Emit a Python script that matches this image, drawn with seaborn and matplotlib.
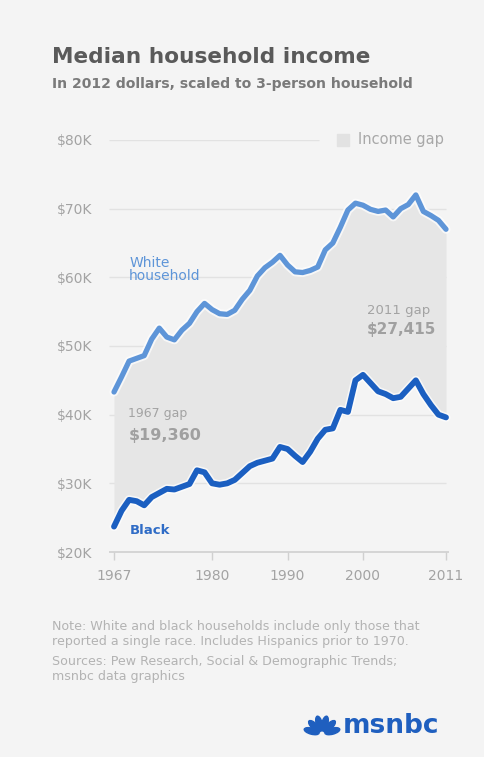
import numpy as np
import pandas as pd
import seaborn as sns
import matplotlib.pyplot as plt
import matplotlib.patheffects as pe
from matplotlib.patches import Ellipse, Rectangle

# values (thousands of 2012 dollars)
years = list(range(1967, 2012))
white_income = [
    43.3, 45.5, 47.8, 48.2, 48.6, 51.0, 52.6, 51.3, 50.9, 52.3,
    53.3, 55.0, 56.2, 55.3, 54.7, 54.6, 55.2, 56.8, 58.1, 60.2,
    61.4, 62.2, 63.2, 61.8, 60.8, 60.7, 61.0, 61.5, 64.0, 65.0,
    67.3, 69.8, 70.8, 70.5, 69.9, 69.6, 69.8, 68.8, 70.0, 70.6,
    72.0, 69.6, 69.0, 68.3, 67.0,
]
black_income = [
    23.7, 26.0, 27.6, 27.4, 26.8, 28.0, 28.6, 29.2, 29.1, 29.5,
    29.9, 31.9, 31.6, 30.0, 29.8, 30.0, 30.5, 31.5, 32.5, 33.0,
    33.3, 33.6, 35.3, 35.0, 34.0, 33.1, 34.6, 36.5, 37.8, 38.0,
    40.7, 40.4, 45.0, 45.8, 44.6, 43.4, 43.0, 42.4, 42.6, 43.8,
    45.0, 43.0, 41.4, 40.0, 39.6,
]
y_ticks = [20, 30, 40, 50, 60, 70, 80]
y_labels = ["$20K", "$30K", "$40K", "$50K", "$60K", "$70K", "$80K"]
x_ticks = [1967, 1980, 1990, 2000, 2011]
gap_1967 = "$19,360"
gap_2011 = "$27,415"

df = pd.DataFrame({"year": years, "white": white_income, "black": black_income})

sns.set_theme(style="white")
plt.rcParams["font.family"] = ["DejaVu Sans"]

BG = "#f4f4f4"
W_BLUE = "#5e95d8"
B_BLUE = "#1b5fc1"
GRAY_TXT = "#a3a3a3"

W, H = 485, 757
fig = plt.figure(figsize=(W / 100, H / 100), dpi=100, facecolor=BG)

# axes placement in pixels: 1967 -> x=114, 2011 -> x=446; $20K -> y=552, $80K -> y=140
ppy = (446 - 114) / 44
x0, x1 = 1966, 2012
left = 114 - (1967 - x0) * ppy
right = 446 + (x1 - 2011) * ppy
ax = fig.add_axes([left / W, 1 - 552 / H, (right - left) / W, (552 - 140) / H])
ax.set_facecolor(BG)
ax.set_xlim(x0, x1)
ax.set_ylim(20, 80)

# gridlines
for v in y_ticks[1:]:
    xe = 1994.2 if v == 80 else 2011
    ax.hlines(v, 1966.3, xe, color="#e2e2e2", lw=1, zorder=1)
ax.hlines(20, 1966.3, 2011.4, color="#cfcfcf", lw=1.2, zorder=1, clip_on=False)

# income gap band
ax.fill_between(df["year"], df["black"], df["white"], color="#e6e6e6", lw=0, zorder=2)

halo = [pe.Stroke(linewidth=6.5, foreground="white", alpha=0.7), pe.Normal()]
sns.lineplot(data=df, x="year", y="white", ax=ax, color=W_BLUE, lw=3.8,
             zorder=4, clip_on=False, path_effects=halo)
sns.lineplot(data=df, x="year", y="black", ax=ax, color=B_BLUE, lw=4.2,
             zorder=4, clip_on=False, path_effects=halo)

for s in ax.spines.values():
    s.set_visible(False)
ax.set_xlabel("")
ax.set_ylabel("")
ax.set_yticks(y_ticks)
ax.set_yticklabels(y_labels)
ax.set_xticks(x_ticks)
ax.set_xticklabels([str(x) for x in x_ticks])
ax.tick_params(axis="y", length=0, pad=10, labelsize=10, labelcolor=GRAY_TXT)
ax.tick_params(axis="x", length=6, width=1, color="#d0d0d0", pad=6,
               labelsize=10, labelcolor=GRAY_TXT, bottom=True)

# annotations
ax.text(1969.0, 61.1, "White\nhousehold", color=W_BLUE, fontsize=10,
        linespacing=0.9, va="center", ha="left", zorder=5)
ax.text(1968.9, 40.2, "1967 gap", color=GRAY_TXT, fontsize=9, ha="left", va="center", zorder=5)
ax.text(1968.9, 36.9, gap_1967, color="#a0a0a0", fontsize=11.5, fontweight="bold",
        ha="left", va="center", zorder=5)
ax.text(2000.5, 55.2, "2011 gap", color=GRAY_TXT, fontsize=9.5, ha="left", va="center", zorder=5)
ax.text(2000.5, 52.4, gap_2011, color="#a0a0a0", fontsize=11, fontweight="bold",
        ha="left", va="center", zorder=5)
ax.text(1969.1, 23.2, "Black", color="#2f6cc6", fontsize=9.5, fontweight="bold",
        ha="left", va="center", zorder=5)

# legend
ax.add_patch(Rectangle((1996.5, 79.1), 1.7, 1.8, color="#e2e2e2", zorder=5, clip_on=False))
ax.text(1999.3, 80, "Income gap", color="#a8a8a8", fontsize=10.5, va="center", ha="left")

# titles and notes
fig.text(52 / W, 1 - 57 / H, "Median household income", fontsize=15.6,
         fontweight="bold", color="#5a5a5a", va="center", ha="left")
fig.text(52 / W, 1 - 84 / H, "In 2012 dollars, scaled to 3-person household",
         fontsize=10.1, fontweight="bold", color="#7a7a7a", va="center", ha="left")
fig.text(52 / W, 1 - 634 / H,
         "Note: White and black households include only those that\n"
         "reported a single race. Includes Hispanics prior to 1970.",
         fontsize=9.1, color="#b3b3b3", va="center", ha="left", linespacing=1.15)
fig.text(52 / W, 1 - 669 / H,
         "Sources: Pew Research, Social & Demographic Trends;\nmsnbc data graphics",
         fontsize=9.1, color="#b3b3b3", va="center", ha="left", linespacing=1.15)

# msnbc logo: simple peacock fan plus wordmark
logo = fig.add_axes([302 / W, 1 - 737 / H, 40 / W, 26 / H])
logo.set_xlim(-1.3, 1.3)
logo.set_ylim(-0.1, 1.6)
logo.set_aspect("equal")
logo.axis("off")
for ang in [165, 135, 105, 75, 45, 15]:
    t = np.deg2rad(ang)
    logo.add_patch(Ellipse((0.7 * np.cos(t), 0.7 * np.sin(t) + 0.1), 0.4, 1.0,
                           angle=ang - 90, color="#1f5fbf"))
fig.text(343 / W, 1 - 733 / H, "msnbc", fontsize=19, fontweight="bold",
         color="#1f5fbf", va="baseline", ha="left")

fig.savefig("out.png", dpi=100, facecolor=BG)
